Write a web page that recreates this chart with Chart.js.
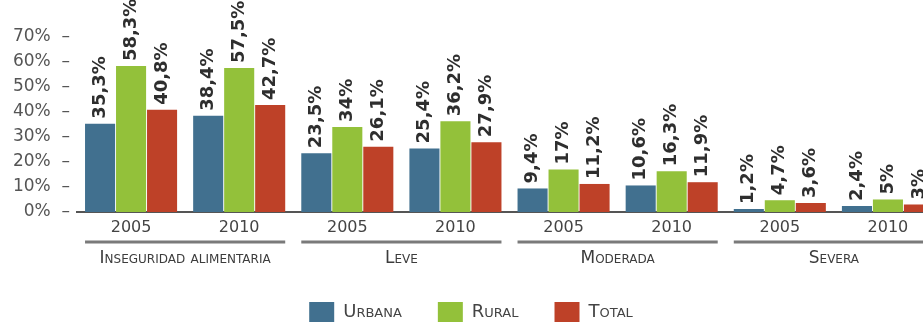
<!DOCTYPE html>
<html lang="es">
<head>
<meta charset="utf-8">
<title>Inseguridad alimentaria</title>
<script src="https://cdn.jsdelivr.net/npm/chart.js@4/dist/chart.umd.min.js"></script>
<style>
  html, body { margin: 0; padding: 0; background: #fff; overflow: hidden; }
  #wrap { width: 946px; height: 324px; }
</style>
</head>
<body>
<div id="wrap"><canvas id="chart" width="946" height="324"></canvas></div>
<script>
// Years on the lower axis, one pair per level of food insecurity
const years = ['2005', '2010', '2005', '2010', '2005', '2010', '2005', '2010'];
const groups = ['Inseguridad alimentaria', 'Leve', 'Moderada', 'Severa'];

// Percent of households, by area
const urbana = [35.3, 38.4, 23.5, 25.4, 9.4, 10.6, 1.2, 2.4];
const rural = [58.3, 57.5, 34, 36.2, 17, 16.3, 4.7, 5];
const total = [40.8, 42.7, 26.1, 27.9, 11.2, 11.9, 3.6, 3];

const yTicks = [0, 10, 20, 30, 40, 50, 60, 70];

const FONT = "'DejaVu Sans', sans-serif";
const smallCaps = 'small-caps 400'; // goes into the canvas font shorthand

const fmt = v => String(v).replace('.', ',') + '%';

// Rotated value labels above each bar
const barLabels = {
    id: 'barLabels',
    afterDatasetsDraw(chart) {
        const ctx = chart.ctx;
        ctx.save();
        ctx.font = 'bold 18px ' + FONT;
        ctx.fillStyle = '#2e2e2e';
        ctx.textAlign = 'left';
        ctx.textBaseline = 'middle';
        chart.data.datasets.forEach((ds, di) => {
            const meta = chart.getDatasetMeta(di);
            meta.data.forEach((bar, i) => {
                ctx.save();
                ctx.translate(bar.x, bar.y - 5);
                ctx.rotate(-Math.PI / 2);
                ctx.fillText(fmt(ds.data[i]), 0, 0);
                ctx.restore();
            });
        });
        ctx.restore();
    }
};

// Rule under each pair of years, spanning that pair's bars
const groupRules = {
    id: 'groupRules',
    afterDraw(chart) {
        const ctx = chart.ctx;
        const first = chart.getDatasetMeta(0).data;
        const last = chart.getDatasetMeta(chart.data.datasets.length - 1).data;
        const y = chart.scales.x.bottom;
        ctx.save();
        ctx.strokeStyle = '#7a7a7a';
        ctx.lineWidth = 3;
        groups.forEach((g, i) => {
            const a = first[2 * i], b = last[2 * i + 1];
            ctx.beginPath();
            ctx.moveTo(a.x - a.width / 2, y);
            ctx.lineTo(b.x + b.width / 2, y);
            ctx.stroke();
        });
        ctx.restore();
    }
};

new Chart(document.getElementById('chart'), {
    type: 'bar',
    data: {
        labels: years,
        datasets: [
            { label: 'Urbana', data: urbana, backgroundColor: '#41708f' },
            { label: 'Rural', data: rural, backgroundColor: '#93c13a' },
            { label: 'Total', data: total, backgroundColor: '#be4128' }
        ]
    },
    options: {
        responsive: false,
        animation: false,
        categoryPercentage: 0.86,
        barPercentage: 0.97,
        layout: { padding: { top: 35, right: 4, bottom: 0, left: 0 } },
        plugins: {
            tooltip: { enabled: false },
            legend: {
                position: 'bottom',
                maxHeight: 58,
                labels: {
                    boxWidth: 25,
                    boxHeight: 20,
                    padding: 36,
                    color: '#444',
                    font: { family: FONT, size: 18, weight: smallCaps }
                }
            }
        },
        scales: {
            y: {
                min: 0,
                max: 70.7,
                afterFit: s => { s.width = 77; },
                afterBuildTicks: s => { s.ticks = yTicks.map(v => ({ value: v })); },
                grid: { display: false, drawTicks: false },
                border: { display: false },
                ticks: {
                    padding: 7,
                    color: '#555',
                    font: { family: FONT, size: 17 },
                    callback: v => v + '%  \u2013'
                }
            },
            x: {
                afterFit: s => { s.height = 30; },
                grid: { display: false, drawTicks: false },
                border: { display: true, color: '#555', width: 2 },
                ticks: {
                    padding: 6,
                    color: '#444',
                    autoSkip: false,
                    maxRotation: 0,
                    font: { family: FONT, size: 16 }
                }
            },
            x2: {
                type: 'category',
                labels: groups,
                position: 'bottom',
                offset: true,
                afterFit: s => { s.height = 24; },
                grid: { display: false, drawTicks: false },
                border: { display: false },
                ticks: {
                    padding: 6,
                    color: '#3c3c3c',
                    autoSkip: false,
                    maxRotation: 0,
                    font: { family: FONT, size: 17, weight: smallCaps }
                }
            }
        }
    },
    plugins: [barLabels, groupRules]
});
</script>
</body>
</html>
